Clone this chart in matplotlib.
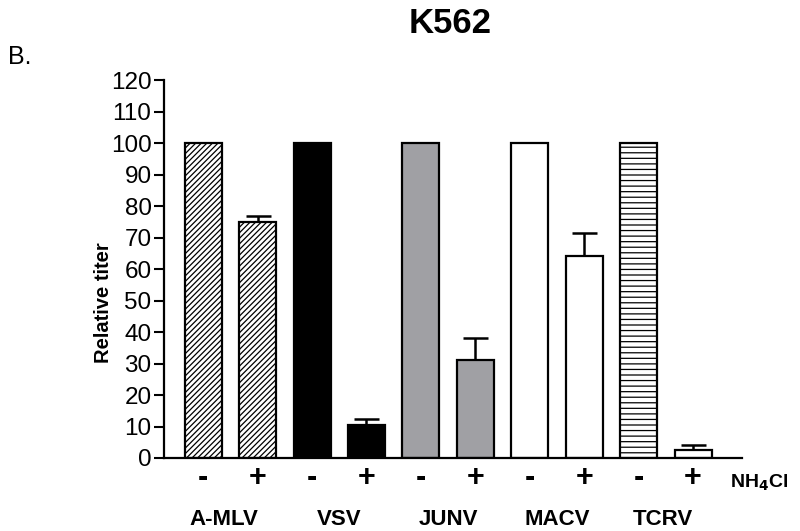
import matplotlib
matplotlib.use("Agg")
import matplotlib.pyplot as plt

plt.rcParams['font.family'] = ['Liberation Sans', 'DejaVu Sans']
plt.rcParams['hatch.linewidth'] = 0.9

viruses = ["A-MLV", "VSV", "JUNV", "MACV", "TCRV"]
treatment = ["-", "+"]
values = [100, 75, 100, 10.5, 100, 31, 100, 64, 100, 2.5]
errors = [0, 2, 0, 2, 0, 7, 0, 7.5, 0, 1.5]
facecolors = ["white", "white", "black", "black", "#a0a0a4", "#a0a0a4",
              "white", "white", "white", "white"]
hatches = ["//////", "//////", "", "", "", "", "", "", "---", ""]
yticks = list(range(0, 121, 10))

fig = plt.figure(figsize=(8, 5.31), dpi=100)
ax = fig.add_axes([0.205, 0.1375, 0.7225, 0.7115])

pos = list(range(len(values)))
for i, (v, fc, h) in enumerate(zip(values, facecolors, hatches)):
    ax.bar(pos[i], v, width=0.68, color=fc, edgecolor="black", hatch=h,
           linewidth=1.6, zorder=2)
for i, (v, e) in enumerate(zip(values, errors)):
    if e > 0:
        ax.errorbar(pos[i], v, yerr=[[0], [e]], fmt="none", ecolor="black",
                    elinewidth=1.8, capsize=9, capthick=1.8, zorder=1)

ax.set_xlim(-0.72, 9.9)
ax.set_ylim(0, 120)
ax.set_yticks(yticks)
ax.tick_params(axis='y', labelsize=17.5, length=7, width=1.5, direction='out', pad=2)
ax.set_xticks([])
for s in ["top", "right"]:
    ax.spines[s].set_visible(False)
ax.spines["left"].set_linewidth(1.6)
ax.spines["bottom"].set_linewidth(1.6)
ax.set_ylabel("Relative titer", fontsize=14.5, fontweight="bold", labelpad=6)
ax.yaxis.set_label_coords(-0.088, 0.41)

# treatment labels
for i in pos:
    ax.text(i, -6.5, treatment[i % 2], ha="center", va="center",
            fontsize=22, fontweight="bold", clip_on=False)
offsets = [-0.12, 0, 0, 0, -0.05]
for g, name in enumerate(viruses):
    ax.text(2 * g + 0.5 + offsets[g], -19.5, name, ha="center", va="center",
            fontsize=16, fontweight="bold", clip_on=False)
ax.text(9.68, -7.9, r"NH$_\mathbf{4}$Cl", ha="left", va="center", fontsize=14,
        fontweight="bold", clip_on=False)

fig.text(0.5625, 0.955, "K562", ha="center", va="center", fontsize=25, fontweight="bold")
fig.text(0.01, 0.893, "B.", ha="left", va="center", fontsize=18)

fig.savefig("out.png", dpi=100)
